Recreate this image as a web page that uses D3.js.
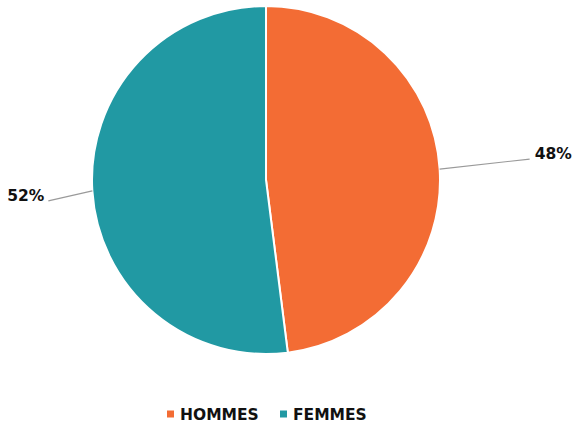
<!DOCTYPE html>
<html>
<head>
<meta charset="utf-8">
<script src="https://cdn.jsdelivr.net/npm/d3@7"></script>
<style>
html,body{margin:0;padding:0;background:#fff;}
svg{display:block;font-family:"DejaVu Sans",sans-serif;}
</style>
</head>
<body>
<svg id="chart" width="576" height="430"></svg>
<script>
const categories = ["HOMMES", "FEMMES"];
const values = [48, 52];
const labels = ["48%", "52%"];
const colors = ["#F36C34", "#2199A3"];

const svg = d3.select("#chart");
const cx = 266, cy = 180, r = 174;
const g = svg.append("g").attr("transform", `translate(${cx},${cy})`);

const pie = d3.pie().sort(null).value(d => d.v);
const data = pie(categories.map((c, i) => ({c, v: values[i], l: labels[i], col: colors[i]})));
const arc = d3.arc().innerRadius(0).outerRadius(r);

g.selectAll("path.slice").data(data).enter().append("path")
  .attr("class", "slice")
  .attr("d", arc)
  .attr("fill", d => d.data.col)
  .attr("stroke", "#fff")
  .attr("stroke-width", 2);

// leader lines
data.forEach(d => {
  const a = (d.startAngle + d.endAngle) / 2;
  const sx = r * Math.sin(a), sy = -r * Math.cos(a);
  const right = Math.sin(a) > 0;
  const ex = right ? sx + 90 : sx - 44;
  const ey = right ? sy - 10 : sy + 10;
  g.append("line")
    .attr("x1", sx).attr("y1", sy).attr("x2", ex).attr("y2", ey)
    .attr("stroke", "#9a9a9a").attr("stroke-width", 1.2);
  g.append("text")
    .attr("x", right ? ex + 5 : ex - 4)
    .attr("y", ey)
    .attr("dy", "0.02em")
    .attr("text-anchor", right ? "start" : "end")
    .attr("font-size", 15.5)
    .attr("font-weight", "bold")
    .attr("fill", "#111")
    .text(d.data.l);
});

// legend
const legend = svg.append("g").attr("transform", "translate(0,414)");
const items = [{x: 167}, {x: 280}];
categories.forEach((c, i) => {
  legend.append("rect")
    .attr("x", items[i].x).attr("y", -3.5).attr("width", 7).attr("height", 7)
    .attr("fill", colors[i]);
  legend.append("text")
    .attr("x", items[i].x + 13).attr("y", 0).attr("dy", "0.36em")
    .attr("font-size", 15.5).attr("font-weight", "bold").attr("fill", "#111")
    .text(c);
});
</script>
</body>
</html>
